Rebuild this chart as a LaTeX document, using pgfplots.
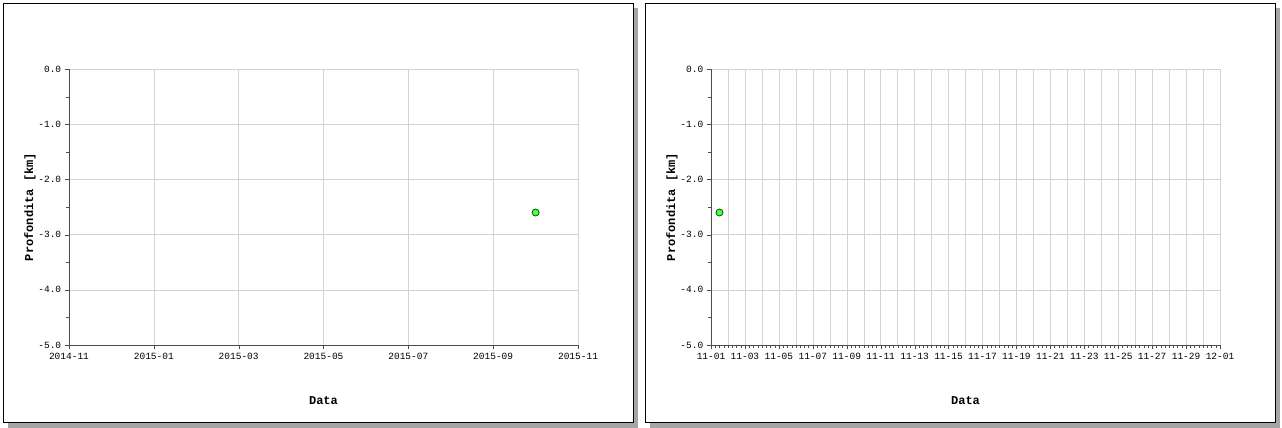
\documentclass[border=0pt]{standalone}
\usepackage{pgfplots}
\pgfplotsset{compat=1.18}
\usepackage{fontspec}
\setmainfont{Liberation Mono}
\begin{document}
\begin{tikzpicture}
\path[use as bounding box] (0pt,0pt) rectangle (1282pt,428pt);
\fill[gray!70] (8pt,0pt) rectangle (638pt,420pt);
\filldraw[fill=white,draw=black] (3pt,6pt) rectangle (633pt,425pt);
\fill[gray!70] (650pt,0pt) rectangle (1280pt,420pt);
\filldraw[fill=white,draw=black] (645pt,6pt) rectangle (1275pt,425pt);
\pgfplotsset{mystyle/.style={scale only axis,width=509pt,height=276pt,anchor=south west,
 ymin=-5,ymax=0,ytick={-5,-4,...,0},minor y tick num=1,
 yticklabel={\pgfmathprintnumber[fixed,fixed zerofill,precision=1]{\tick}},
 /pgf/number format/assume math mode=true,
 tick label style={font=\fontsize{9.5}{10}\selectfont},
 grid=major, major grid style={gray!35},
 axis line style={gray!60!black}, tick style={gray!60!black}, tick align=outside,
 axis x line*=bottom, axis y line*=left,
 xlabel={\bfseries Data}, ylabel={\bfseries Profondita [km]},
 label style={font=\fontsize{12}{14}\selectfont},
 xlabel style={at={(axis description cs:0.5,0)},anchor=center,yshift=-56pt},
 ylabel style={at={(axis description cs:0,0.5)},anchor=center,yshift=39pt},
 clip=false}}
\begin{axis}[mystyle,at={(69pt,83pt)},xmin=0,xmax=12,xtick={0,2,...,12},
 xticklabels={2014-11,2015-01,2015-03,2015-05,2015-07,2015-09,2015-11}]
\addplot[only marks,mark=*,mark size=3.5pt,mark options={fill=green!70!white,draw=green!35!black,line width=0.8pt}] coordinates {(11,-2.6)};
\end{axis}
\begin{axis}[mystyle,at={(711pt,83pt)},xmin=0,xmax=30,xtick={0,2,...,30},minor x tick num=7,
 extra x ticks={1,3,...,29},extra x tick labels={},extra x tick style={grid=major,tick style={draw=none}},
 xticklabels={11-01,11-03,11-05,11-07,11-09,11-11,11-13,11-15,11-17,11-19,11-21,11-23,11-25,11-27,11-29,12-01},
 x tick label style={font=\fontsize{9.5}{10}\selectfont,inner xsep=0pt}]
\addplot[only marks,mark=*,mark size=3.5pt,mark options={fill=green!70!white,draw=green!35!black,line width=0.8pt}] coordinates {(0.5,-2.6)};
\end{axis}
\end{tikzpicture}
\end{document}
